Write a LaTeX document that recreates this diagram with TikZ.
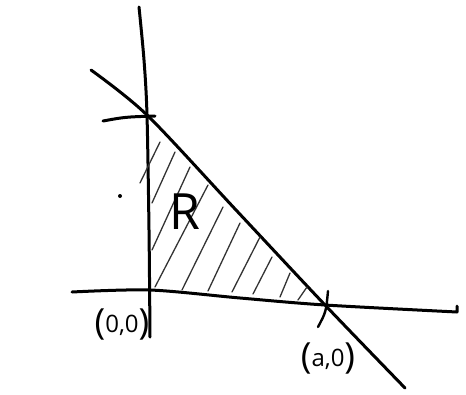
\documentclass[tikz,border=0pt]{standalone}
\usepackage{fontspec}
\setmainfont{Open Sans}
\newcommand{\bigpar}[1]{{\fontsize{36}{36}\selectfont\raisebox{-2pt}{#1}}}
\begin{document}
\begin{tikzpicture}[x=1pt,y=-1pt,
  axis/.style={line width=3pt,line cap=round,line join=round,black},
  hatch/.style={line width=1.3pt,line cap=round,black!80},
  lbl/.style={inner sep=0pt,font=\fontsize{24}{24}\selectfont}]
\useasboundingbox (0,0) rectangle (466,394);
% vertical axis
\draw[axis] plot[smooth] coordinates {(139,7) (144,60) (147,115) (149,230) (150,337)};
% horizontal axis
\draw[axis] plot[smooth] coordinates {(72,292) (150,290) (240,298) (325,305) (457,312)} -- (457,306);
% diagonal line
\draw[axis] plot[smooth] coordinates {(91,70) (147,115) (236,210) (325,305) (405,388)};
% intercept ticks
\draw[axis] (103,121) .. controls (125,117) .. (155,116);
\draw[axis,line width=2.4pt] (328,291) .. controls (326,312) .. (318,327);
% hatching
\draw[hatch] (160,142) -- (140,183);
\draw[hatch] (175,152) -- (152,203);
\draw[hatch] (190,167) -- (152,250);
\draw[hatch] (208,185) -- (155,287);
\draw[hatch] (223,207) -- (182,290);
\draw[hatch] (240,223) -- (208,291);
\draw[hatch] (260,237) -- (232,292);
\draw[hatch] (272,257) -- (253,294);
\draw[hatch] (290,273) -- (280,297);
\draw[hatch] (307,287) -- (298,300);
% dot
\fill (120,196) circle (2pt);
% labels
\node[inner sep=0pt,font=\fontsize{50}{50}\selectfont] (R) at (185,212) {R};
\node[lbl] (o) at (122,324) {\bigpar{(}0,0\bigpar{)}};
\node[lbl] (a) at (328,358) {\bigpar{(}a,0\bigpar{)}};
\end{tikzpicture}
\end{document}
